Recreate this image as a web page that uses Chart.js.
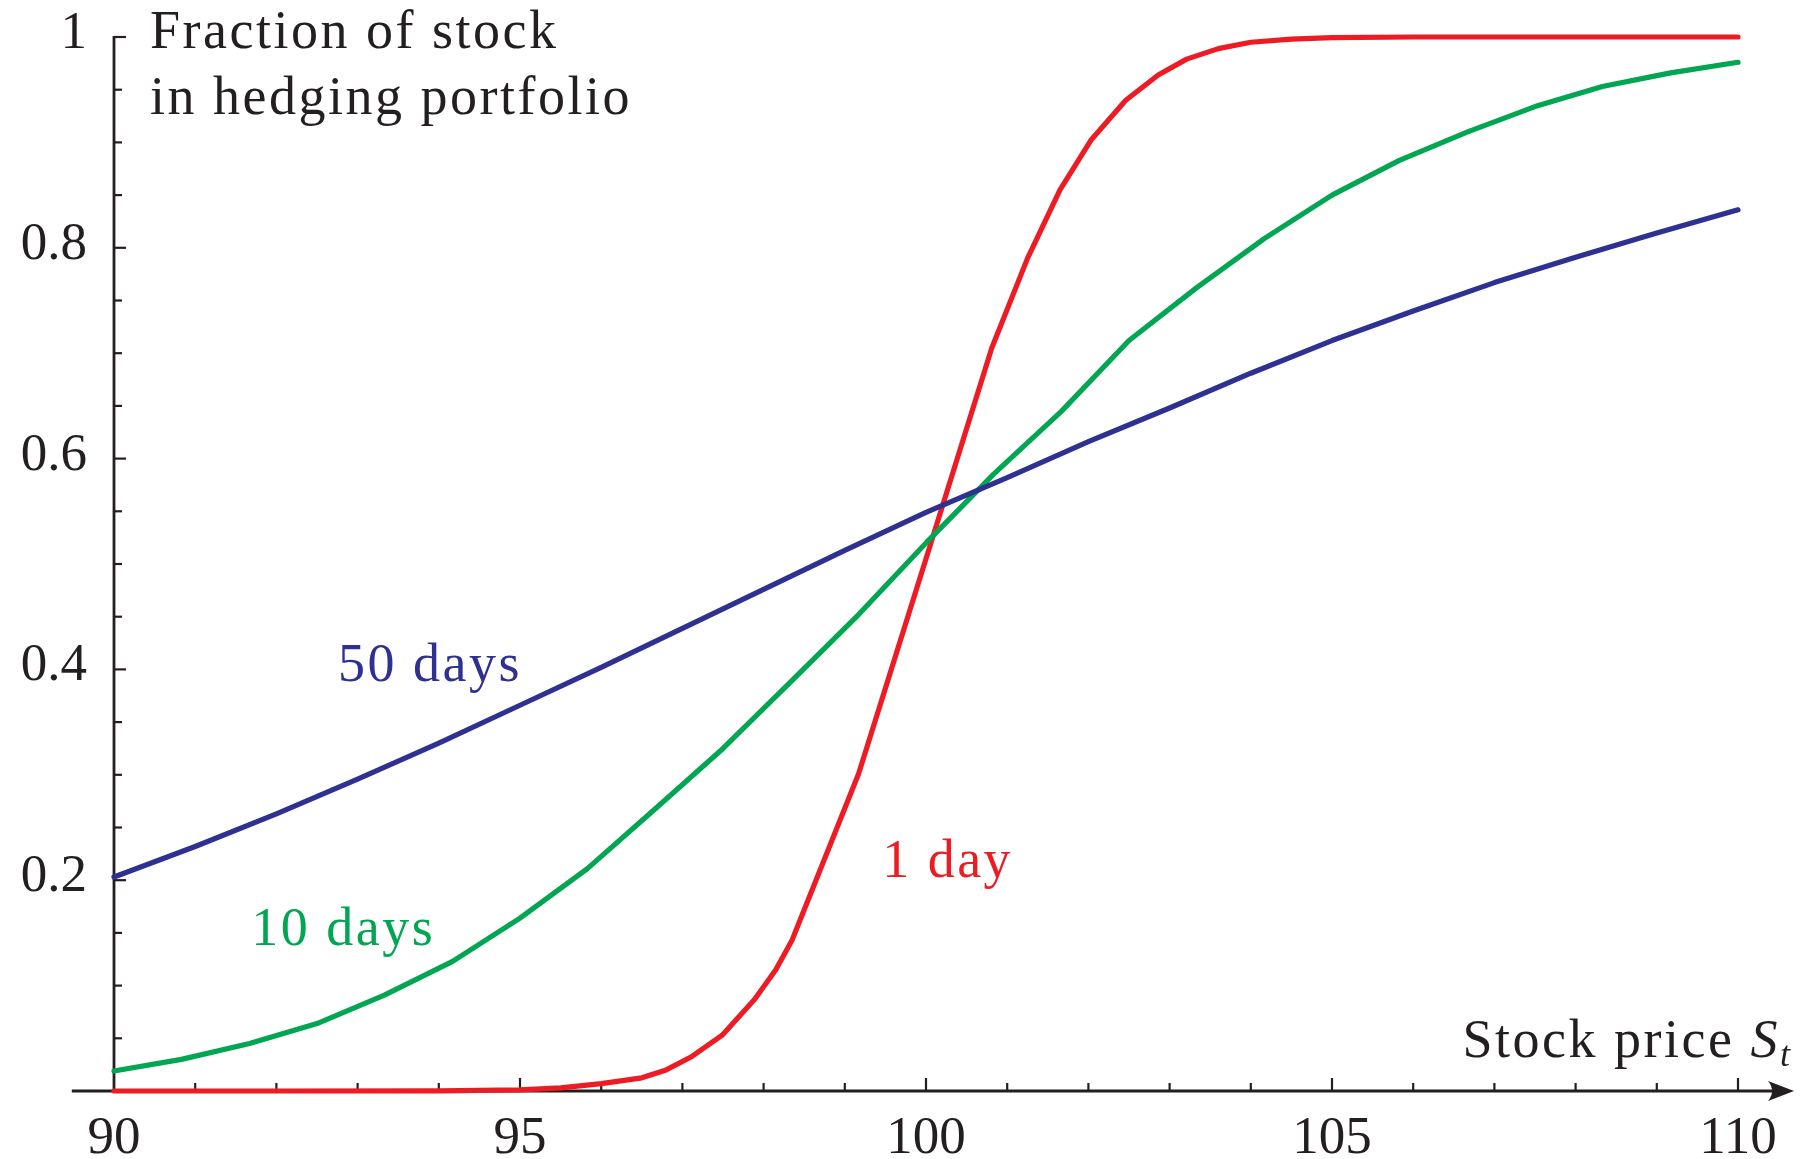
<!DOCTYPE html>
<html>
<head>
<meta charset="utf-8">
<script src="https://cdn.jsdelivr.net/npm/chart.js@4.4.1/dist/chart.umd.min.js"></script>
<style>
  html, body { margin: 0; padding: 0; background: #fff; }
  #wrap { width: 1809px; height: 1159px; }
</style>
</head>
<body>
<div id="wrap"><canvas id="deltaChart" width="1809" height="1159"></canvas></div>
<script>
// axis ranges and tick labels
const xMin = 90, xMax = 110;
const xTickLabels = [90, 95, 100, 105, 110];
const yTickLabels = [0.2, 0.4, 0.6, 0.8, 1];

// 50 days to expiry
const price50 = [90, 91, 92, 93, 94, 95, 96, 97, 98, 99, 100, 101, 102, 103, 104, 105, 106, 107, 108, 109, 110];
const delta50 = [0.203, 0.232, 0.263, 0.296, 0.330, 0.366, 0.402, 0.439, 0.476, 0.513, 0.549,
                 0.582, 0.616, 0.648, 0.681, 0.712, 0.740, 0.767, 0.791, 0.814, 0.836];

// 10 days to expiry
const price10 = [90, 90.83, 91.67, 92.5, 93.33, 94.17, 95, 95.83, 96.67, 97.5, 98.33, 99.17, 100,
                 100.83, 101.67, 102.5, 103.33, 104.17, 105, 105.83, 106.67, 107.5, 108.33, 109.17, 110];
const delta10 = [0.019, 0.030, 0.045, 0.064, 0.091, 0.123, 0.164, 0.211, 0.268, 0.325, 0.388, 0.452, 0.520,
                 0.585, 0.645, 0.712, 0.762, 0.809, 0.850, 0.883, 0.910, 0.934, 0.953, 0.966, 0.976];

// 1 day to expiry
const price1 = [90, 92, 94, 95, 95.5, 96, 96.5, 96.8, 97.1, 97.49, 97.89, 98.15, 98.35, 99.17, 100,
                100.81, 101.25, 101.65, 102.03, 102.46, 102.86, 103.21, 103.6, 104, 104.5, 105, 106, 110];
const delta1 = [0, 0, 0.0002, 0.001, 0.003, 0.007, 0.0125, 0.02, 0.032, 0.053, 0.087, 0.115, 0.143, 0.301, 0.505,
                0.705, 0.790, 0.855, 0.902, 0.940, 0.964, 0.979, 0.989, 0.995, 0.998, 0.9995, 1, 1];

const blue = "#2E3192", green = "#00A651", red = "#ED1C24", ink = "#231F20";
const serif = "'Liberation Serif', 'Times New Roman', serif";

function toPoints(xs, ys) {
  return xs.map((v, i) => ({ x: v, y: ys[i] }));
}

const axesPlugin = {
  id: "axesPlugin",
  beforeDatasetsDraw(chart) {
    const { ctx, scales: { x, y } } = chart;
    const x0 = x.getPixelForValue(xMin);
    const y0 = y.getPixelForValue(0);
    ctx.save();
    ctx.strokeStyle = ink;
    ctx.fillStyle = ink;
    ctx.lineCap = "butt";

    // horizontal axis with arrow
    const tip = x.getPixelForValue(110.69);
    ctx.lineWidth = 2.8;
    ctx.beginPath();
    ctx.moveTo(x.getPixelForValue(89.48), y0);
    ctx.lineTo(tip - 12, y0);
    ctx.stroke();
    ctx.beginPath();
    ctx.moveTo(tip, y0);
    ctx.lineTo(tip - 26, y0 - 10);
    ctx.quadraticCurveTo(tip - 18, y0, tip - 26, y0 + 10);
    ctx.closePath();
    ctx.fill();

    // vertical axis
    ctx.beginPath();
    ctx.moveTo(x0, y.getPixelForValue(1) - 1);
    ctx.lineTo(x0, y0);
    ctx.stroke();

    // ticks pointing inward
    ctx.lineWidth = 2.2;
    for (let k = 1; k <= 20; k++) {
      const px = x.getPixelForValue(xMin + k);
      const len = k % 5 === 0 ? 13 : 8;
      ctx.beginPath();
      ctx.moveTo(px, y0);
      ctx.lineTo(px, y0 - len);
      ctx.stroke();
    }
    for (let k = 1; k <= 20; k++) {
      const py = y.getPixelForValue(k * 0.05);
      const len = k % 4 === 0 ? 12 : 8;
      ctx.beginPath();
      ctx.moveTo(x0, py);
      ctx.lineTo(x0 + len, py);
      ctx.stroke();
    }
    ctx.restore();
  },
  afterDraw(chart) {
    const { ctx, scales: { x, y } } = chart;
    const x0 = x.getPixelForValue(xMin);
    const y0 = y.getPixelForValue(0);
    ctx.save();
    ctx.fillStyle = ink;

    // tick labels
    ctx.font = "53px " + serif;
    ctx.textAlign = "center";
    ctx.textBaseline = "alphabetic";
    xTickLabels.forEach(v => ctx.fillText(String(v), x.getPixelForValue(v), y0 + 62));
    ctx.textAlign = "right";
    yTickLabels.forEach(v => ctx.fillText(String(v), x0 - 27, y.getPixelForValue(v) + 11));

    // axis titles
    ctx.font = "54px " + serif;
    ctx.letterSpacing = "2.5px";
    ctx.textAlign = "left";
    ctx.fillText("Fraction of stock", x0 + 36, 48);
    ctx.fillText("in hedging portfolio", x0 + 36, 114);

    const right = x.getPixelForValue(110.67);
    const base = y0 - 34;
    ctx.font = "italic 36px " + serif;
    const wt = ctx.measureText("t").width;
    ctx.font = "italic 54px " + serif;
    const ws = ctx.measureText("S").width;
    ctx.font = "54px " + serif;
    const wtext = ctx.measureText("Stock price ").width;
    let cx = right - wt - ws - wtext;
    ctx.fillText("Stock price ", cx, base);
    cx += wtext;
    ctx.font = "italic 54px " + serif;
    ctx.fillText("S", cx, base);
    cx += ws;
    ctx.font = "italic 36px " + serif;
    ctx.fillText("t", cx, base + 9);

    // curve labels
    ctx.font = "54px " + serif;
    ctx.fillStyle = blue;
    ctx.fillText("50 days", x.getPixelForValue(92.76), y.getPixelForValue(0.389));
    ctx.fillStyle = green;
    ctx.fillText("10 days", x.getPixelForValue(91.69), y.getPixelForValue(0.1385));
    ctx.fillStyle = red;
    ctx.fillText("1 day", x.getPixelForValue(99.46), y.getPixelForValue(0.203));
    ctx.restore();
  }
};

const lineStyle = {
  borderWidth: 5.2,
  pointRadius: 0,
  tension: 0,
  fill: false,
  clip: false,
  borderCapStyle: "round",
  borderJoinStyle: "round"
};

function drawChart() {
  new Chart(document.getElementById("deltaChart"), {
    type: "line",
    data: {
      datasets: [
        Object.assign({ label: "50 days", data: toPoints(price50, delta50), borderColor: blue }, lineStyle),
        Object.assign({ label: "10 days", data: toPoints(price10, delta10), borderColor: green }, lineStyle),
        Object.assign({ label: "1 day", data: toPoints(price1, delta1), borderColor: red }, lineStyle)
      ]
    },
    options: {
      responsive: false,
      animation: false,
      layout: { padding: { left: 114, right: 71, top: 37, bottom: 68 } },
      plugins: {
        legend: { display: false },
        tooltip: { enabled: false }
      },
      scales: {
        x: { type: "linear", min: xMin, max: xMax, display: false },
        y: { type: "linear", min: 0, max: 1, display: false }
      }
    },
    plugins: [axesPlugin]
  });
}

Promise.all([
  document.fonts.load("54px 'Liberation Serif'"),
  document.fonts.load("italic 54px 'Liberation Serif'")
]).then(drawChart, drawChart);
</script>
</body>
</html>
